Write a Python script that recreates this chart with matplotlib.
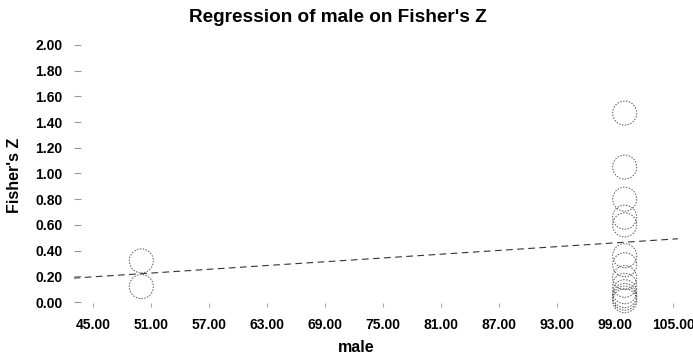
import matplotlib
matplotlib.use("Agg")
import matplotlib.pyplot as plt
import numpy as np

plt.rcParams['font.family'] = ['Liberation Sans', 'DejaVu Sans']

# data
male = [50, 50, 100, 100, 100, 100, 100, 100, 100, 100, 100, 100, 100, 100, 100]
fisher_z = [0.32, 0.12, 1.47, 1.05, 0.80, 0.66, 0.60, 0.36, 0.29, 0.19, 0.13, 0.08, 0.05, 0.03, 0.01]
reg_x = [43.0, 105.5]
reg_y = [0.186, 0.492]
x_ticks = [45, 51, 57, 63, 69, 75, 81, 87, 93, 99, 105]
y_ticks = [0.0, 0.2, 0.4, 0.6, 0.8, 1.0, 1.2, 1.4, 1.6, 1.8, 2.0]

fig = plt.figure(figsize=(6.93, 3.55), dpi=100)
ax = fig.add_axes([0.1063, 0.1366, 0.8788, 0.744])

ax.plot(reg_x, reg_y, color='#333333', linewidth=0.8, linestyle=(0, (6, 4)))
ax.scatter(male, fisher_z, s=300, facecolors='none', edgecolors='#555555',
           linewidths=0.7, linestyle=(0, (1.5, 1.5)), clip_on=False, zorder=3)

ax.set_xlim(43, 106)
ax.set_ylim(-0.035, 2.02)
ax.set_xticks(x_ticks)
ax.set_xticklabels([f"{v:.2f}" for v in x_ticks])
ax.set_yticks(y_ticks)
ax.set_yticklabels([f"{v:.2f}" for v in y_ticks])
for s in ax.spines.values():
    s.set_visible(False)
ax.tick_params(axis='x', direction='in', length=3, width=0.8, color='#aaaaaa',
               pad=8, labelsize=10)
ax.tick_params(axis='y', direction='in', length=5, width=0.8, color='#999999',
               pad=8, labelsize=10)
for lab in ax.get_xticklabels() + ax.get_yticklabels():
    lab.set_fontweight('bold')

fig.text(0.488, 1 - 18 / 355, "Regression of male on Fisher's Z", ha='center', va='center',
         fontsize=13.7, fontweight='bold')
fig.text(356 / 693, 1 - 348 / 355, "male", ha='center', va='center',
         fontsize=11.5, fontweight='bold')
fig.text(15 / 693, 1 - 175 / 355, "Fisher's Z", ha='center', va='center', rotation=90,
         fontsize=11.5, fontweight='bold')

fig.savefig("out.png", dpi=100)
